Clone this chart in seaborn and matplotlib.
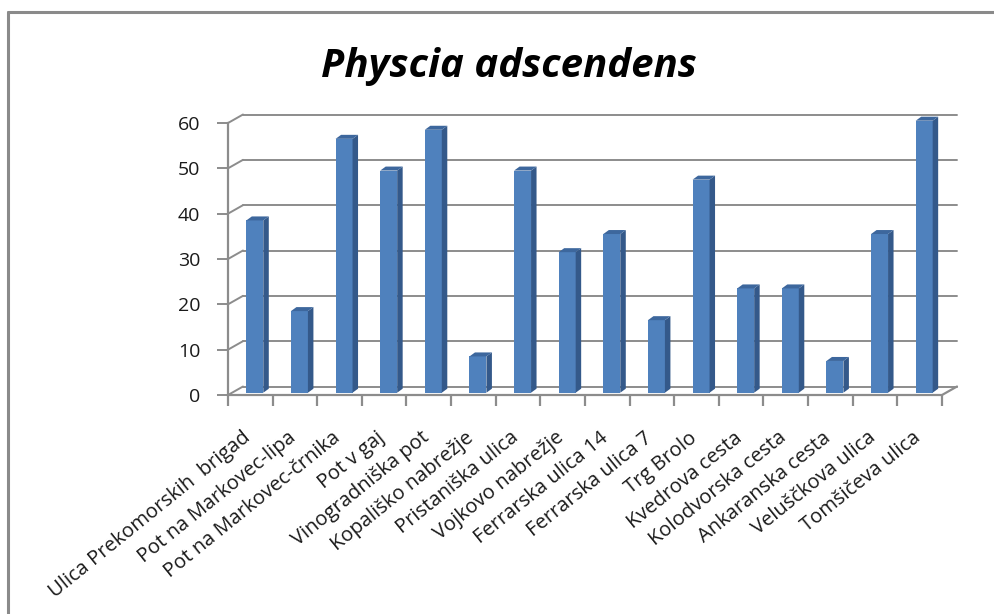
import matplotlib
matplotlib.use("Agg")
import matplotlib.pyplot as plt
import matplotlib.transforms as mtrans
from matplotlib.patches import Polygon
from matplotlib.lines import Line2D
import seaborn as sns
import pandas as pd

# Lichen counts per street
streets = [
    "Ulica Prekomorskih  brigad", "Pot na Markovec-lipa", "Pot na Markovec-črnika",
    "Pot v gaj", "Vinogradniška pot", "Kopališko nabrežje", "Pristaniška ulica",
    "Vojkovo nabrežje", "Ferrarska ulica 14", "Ferrarska ulica 7", "Trg Brolo",
    "Kvedrova cesta", "Kolodvorska cesta", "Ankaranska cesta", "Veluščkova ulica",
    "Tomšičeva ulica",
]
counts = [38, 18, 56, 49, 58, 8, 49, 31, 35, 16, 47, 23, 23, 7, 35, 60]
y_ticks = [0, 10, 20, 30, 40, 50, 60]
title = "Physcia adscendens"

sns.set_theme(style="white")
plt.rcParams["font.family"] = ["Open Sans", "DejaVu Sans"]

W, H = 995, 614
fig = plt.figure(figsize=(W / 100, H / 100), dpi=100)

# plot box (front floor edge / front value axis) in pixels
x0p, x1p, y0p, y1p = 228, 942, 395, 123
ax = fig.add_axes([x0p / W, 1 - y0p / H, (x1p - x0p) / W, (y0p - y1p) / H])

df = pd.DataFrame({"street": streets, "count": counts})
n = len(streets)
px_x = (x1p - x0p) / n          # pixels per category
px_y = (y0p - y1p) / 60.0       # pixels per unit

grid_c = "#8c8c8c"
# depth offsets of the back wall, in data units
wdx, wdy = 15 / px_x, 8.5 / px_y

sns.barplot(data=df, x="street", y="count", color="#4f81bd", width=0.38,
            saturation=1, ax=ax, zorder=3, edgecolor="none")

ax.set_xlim(-0.5, n - 0.5)
ax.set_ylim(0, 60)

# back wall gridlines and side-wall diagonals
for v in y_ticks:
    ax.add_line(Line2D([-0.5 + wdx, n - 0.5 + wdx], [v + wdy, v + wdy],
                       color=grid_c, lw=1.4, clip_on=False, zorder=1))
    ax.add_line(Line2D([-0.5, -0.5 + wdx], [v, v + wdy],
                       color=grid_c, lw=1.4, clip_on=False, zorder=1))
# floor outline
ax.add_line(Line2D([-0.5, n - 0.5, n - 0.5 + wdx], [0, 0, wdy],
                   color=grid_c, lw=1.6, clip_on=False, zorder=2))

# give each bar depth: shift the front face back a little and add side/top faces
fdx, fdy = 4.5 / px_x, 2.3 / px_y
ddx, ddy = 5.5 / px_x, 4.0 / px_y
for p in ax.patches[:n]:
    p.set_x(p.get_x() + fdx)
    p.set_y(fdy)
    p.set_clip_on(False)
    bx0, bw, bh = p.get_x(), p.get_width(), p.get_height()
    bx1 = bx0 + bw
    top = fdy + bh
    side = Polygon([(bx1, fdy), (bx1 + ddx, fdy + ddy), (bx1 + ddx, top + ddy), (bx1, top)],
                   closed=True, facecolor="#34598a", edgecolor="none", zorder=3, clip_on=False)
    cap = Polygon([(bx0, top), (bx0 + ddx, top + ddy), (bx1 + ddx, top + ddy), (bx1, top)],
                  closed=True, facecolor="#3d679d", edgecolor="none", zorder=3, clip_on=False)
    ax.add_patch(side)
    ax.add_patch(cap)

# axes styling
for s in ["top", "right", "bottom"]:
    ax.spines[s].set_visible(False)
ax.spines["left"].set_color(grid_c)
ax.spines["left"].set_linewidth(1.6)
ax.set_yticks(y_ticks)
ax.set_yticklabels([str(v) for v in y_ticks], fontsize=14, color="#1a1a1a")
ax.tick_params(axis="y", length=8, width=1.4, color=grid_c, pad=12, left=True)

ax.set_xticks(range(n))
ax.set_xticks([i - 0.5 for i in range(n + 1)], minor=True)
ax.tick_params(axis="x", which="major", length=0, pad=2)
ax.tick_params(axis="x", which="minor", length=8, width=1.6, color=grid_c, bottom=True)
ax.set_xticklabels(streets, rotation=39, ha="right", va="top",
                   rotation_mode="anchor", fontsize=14.5, color="#1a1a1a")
shift = mtrans.ScaledTranslation(-8 / 100, -30 / 100, fig.dpi_scale_trans)
for lab in ax.get_xticklabels():
    lab.set_transform(lab.get_transform() + shift)
ax.set_xlabel("")
ax.set_ylabel("")
ax.grid(False)

fig.text(509 / W, 1 - 67 / H, title, ha="center", va="center",
         fontsize=29, fontstyle="italic", fontweight="bold", color="black")

# chart area border (top and left edges)
fig.add_artist(Line2D([8 / W, 1.0], [1 - 12 / H, 1 - 12 / H], transform=fig.transFigure,
                      color="#8a8a8a", lw=2.2))
fig.add_artist(Line2D([8 / W, 8 / W], [0, 1 - 12 / H], transform=fig.transFigure,
                      color="#8a8a8a", lw=2.2))

fig.savefig("out.png", dpi=100, facecolor="white")
